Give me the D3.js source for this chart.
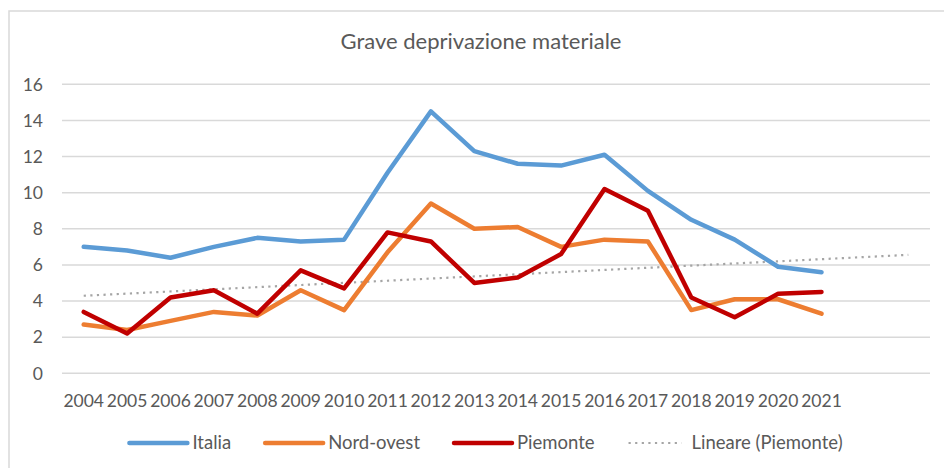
<!DOCTYPE html>
<html>
<head>
<meta charset="utf-8">
<script src="https://cdn.jsdelivr.net/npm/d3@7"></script>
<style>
  body { margin: 0; background: #fff; }
  text { font-family: Lato, "Noto Sans", sans-serif; fill: #595959; }
</style>
</head>
<body>
<div id="chart"></div>
<script>
(function(d3) {
  'use strict';

  var years = ['2004', '2005', '2006', '2007', '2008', '2009', '2010', '2011', '2012',
    '2013', '2014', '2015', '2016', '2017', '2018', '2019', '2020', '2021'];
  var italia = [7.0, 6.8, 6.4, 7.0, 7.5, 7.3, 7.4, 11.1, 14.5, 12.3, 11.6, 11.5, 12.1, 10.1, 8.5, 7.4, 5.9, 5.6];
  var nordOvest = [2.7, 2.4, 2.9, 3.4, 3.2, 4.6, 3.5, 6.7, 9.4, 8.0, 8.1, 7.0, 7.4, 7.3, 3.5, 4.1, 4.1, 3.3];
  var piemonte = [3.4, 2.2, 4.2, 4.6, 3.3, 5.7, 4.7, 7.8, 7.3, 5.0, 5.3, 6.6, 10.2, 9.0, 4.2, 3.1, 4.4, 4.5];
  var yTicks = [0, 2, 4, 6, 8, 10, 12, 14, 16];
  var forecastPeriods = 2; // trendline forecast forward

  var series = [
    { name: 'Italia', values: italia, color: '#5B9BD5' },
    { name: 'Nord-ovest', values: nordOvest, color: '#ED7D31' },
    { name: 'Piemonte', values: piemonte, color: '#C00000' }
  ];

  var width = 944;
  var height = 468;

  var svg = d3.select('#chart')
    .append('svg')
    .attr('width', width)
    .attr('height', height);

  // chart border
  svg.append('rect')
    .attr('x', 9).attr('y', 11)
    .attr('width', 946).attr('height', 470)
    .attr('fill', 'none')
    .attr('stroke', '#d9d9d9')
    .attr('stroke-width', 1.5);

  svg.append('text')
    .attr('x', 481).attr('y', 49)
    .attr('text-anchor', 'middle')
    .style('font-size', '22px')
    .text('Grave deprivazione materiale');

  // categories incl. forecast slots
  var slots = d3.range(years.length + forecastPeriods);

  var x = d3.scalePoint()
    .domain(slots)
    .range([62, 930])
    .padding(0.5);

  var y = d3.scaleLinear()
    .domain([0, 16])
    .range([373.3, 84.3]);

  // gridlines
  svg.append('g')
    .selectAll('line')
    .data(yTicks)
    .enter()
    .append('line')
    .attr('x1', 62).attr('x2', 930)
    .attr('y1', function(d) { return y(d); })
    .attr('y2', function(d) { return y(d); })
    .attr('stroke', '#d9d9d9')
    .attr('stroke-width', 1.5);

  svg.append('g')
    .selectAll('text')
    .data(yTicks)
    .enter()
    .append('text')
    .attr('x', 43)
    .attr('y', function(d) { return y(d); })
    .attr('dy', '0.36em')
    .attr('text-anchor', 'end')
    .style('font-size', '17.5px')
    .text(function(d) { return d; });

  svg.append('g')
    .selectAll('text')
    .data(years)
    .enter()
    .append('text')
    .attr('x', function(d, i) { return x(i); })
    .attr('y', 407)
    .attr('text-anchor', 'middle')
    .style('font-size', '17.5px')
    .text(function(d) { return d; });

  // linear trendline of Piemonte
  var n = piemonte.length;
  var mx = d3.mean(d3.range(n));
  var my = d3.mean(piemonte);
  var sxy = d3.sum(piemonte, function(v, i) { return (i - mx) * (v - my); });
  var sxx = d3.sum(d3.range(n), function(i) { return (i - mx) * (i - mx); });
  var slope = sxy / sxx;
  var icpt = my - slope * mx;

  svg.append('line')
    .attr('x1', x(0))
    .attr('y1', y(icpt))
    .attr('x2', x(slots.length - 1))
    .attr('y2', y(icpt + slope * (slots.length - 1)))
    .attr('stroke', '#A5A5A5')
    .attr('stroke-width', 2.2)
    .attr('stroke-dasharray', '2.2,4.4');

  var line = d3.line()
    .x(function(d, i) { return x(i); })
    .y(function(d) { return y(d); });

  svg.append('g')
    .selectAll('path')
    .data(series)
    .enter()
    .append('path')
    .attr('d', function(d) { return line(d.values); })
    .attr('fill', 'none')
    .attr('stroke', function(d) { return d.color; })
    .attr('stroke-width', 4.5)
    .attr('stroke-linejoin', 'round')
    .attr('stroke-linecap', 'round');

  // legend
  var legendItems = series.map(function(s) {
    return { name: s.name, color: s.color, dash: null, w: 4.5 };
  });
  legendItems.push({ name: 'Lineare (Piemonte)', color: '#A5A5A5', dash: '2.2,4.4', w: 2.2 });

  var legend = svg.append('g');
  var cursor = 0;
  legendItems.forEach(function(it) {
    var g = legend.append('g');
    g.append('line')
      .attr('x1', cursor + 2).attr('x2', cursor + (it.dash ? 55 : 60))
      .attr('y1', 443).attr('y2', 443)
      .attr('stroke', it.color)
      .attr('stroke-width', it.w)
      .attr('stroke-linecap', it.dash ? 'butt' : 'round')
      .attr('stroke-dasharray', it.dash);
    var t = g.append('text')
      .attr('x', cursor + 65)
      .attr('y', 449)
      .style('font-size', '18.5px')
      .text(it.name);
    cursor += 65 + t.node().getComputedTextLength() + 32;
  });
  var legendW = cursor - 32;
  legend.attr('transform', 'translate(' + (485 - legendW / 2) + ',0)');
})(window.d3);
</script>
</body>
</html>
